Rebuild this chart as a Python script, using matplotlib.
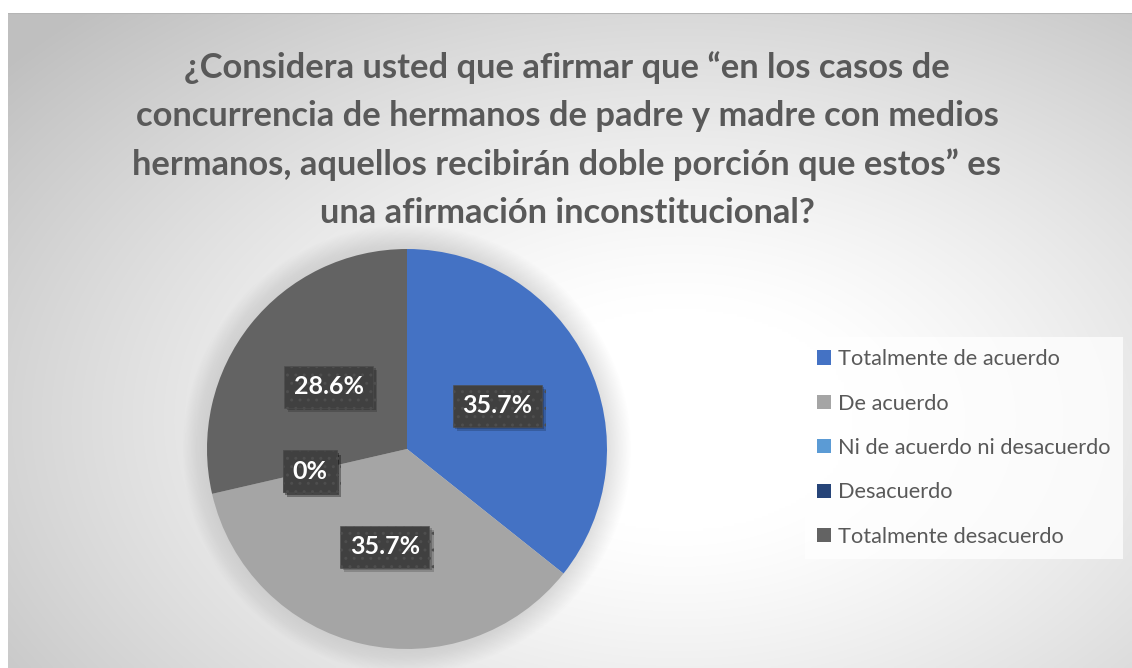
import numpy as np
import matplotlib
matplotlib.use("Agg")
import matplotlib.pyplot as plt
import matplotlib.patheffects as pe
from matplotlib.patches import Circle

# data
categories = ["Totalmente de acuerdo", "De acuerdo", "Ni de acuerdo ni desacuerdo",
              "Desacuerdo", "Totalmente desacuerdo"]
percent = [35.7, 35.7, 0.0, 0.0, 28.6]
colors = ["#4472C4", "#A5A5A5", "#5B9BD5", "#264478", "#636363"]
title = ("¿Considera usted que afirmar que “en los casos de\n"
         "concurrencia de hermanos de padre y madre con medios\n"
         "hermanos, aquellos recibirán doble porción que estos” es\n"
         "una afirmación inconstitucional?")

W, H = 1132, 668
plt.rcParams['font.family'] = ['Lato', 'DejaVu Sans']


def px(x0, y0, x1, y1):
    """pixel box (top-left origin) -> figure fraction rect"""
    return [x0 / W, 1 - y1 / H, (x1 - x0) / W, (y1 - y0) / H]


def main():
    fig = plt.figure(figsize=(W / 100, H / 100), dpi=100)
    fig.patch.set_facecolor("white")

    # chart area with radial grey gradient
    bg = fig.add_axes(px(8, 13, W, H), zorder=-10)
    xs = np.linspace(8, W, 400)
    ys = np.linspace(13, H, 260)
    X, Y = np.meshgrid(xs, ys)
    d = np.sqrt(((X - 680) / 700) ** 2 + ((Y - 420) / 450) ** 2)
    v = 1 - 0.25 * np.clip((d - 0.25) / 1.0, 0, 1) ** 1.2
    bg.imshow(np.dstack([v, v, v]), aspect="auto", extent=[0, 1, 0, 1], interpolation="bilinear")
    bg.plot([0, 1], [1, 1], color="#b5b5b5", lw=1.5, transform=bg.transAxes)
    bg.set_xlim(0, 1)
    bg.set_ylim(0, 1)
    bg.axis("off")

    fig.text(567 / W, 1 - 140 / H, title, ha="center", va="center", fontsize=24.8,
             fontweight="bold", color="#595959", linespacing=1.62)

    # pie
    ax = fig.add_axes(px(207, 249, 607, 649))
    for k in range(16):
        ax.add_patch(Circle((0, 0), 1.0 + 0.008 * k, color="#808080", alpha=0.012, lw=0, zorder=0))
    wedges, texts, autotexts = ax.pie(
        percent, colors=colors, startangle=90, counterclock=False, radius=1,
        autopct=lambda p: "0%" if p < 0.05 else f"{p:.1f}%", pctdistance=0.5,
        wedgeprops=dict(linewidth=0))
    for t in autotexts:
        t.set_color("white")
        t.set_fontsize(18)
        t.set_fontweight("bold")
        t.set_bbox(dict(boxstyle="square,pad=0.38", facecolor="#404040",
                        edgecolor="#4e4e4e", linewidth=0.4, hatch=".."))
        t.get_bbox_patch().set_path_effects(
            [pe.SimplePatchShadow(offset=(3, -3), shadow_rgbFace="black", alpha=0.18),
             pe.SimplePatchShadow(offset=(2, -2), shadow_rgbFace="black", alpha=0.2),
             pe.Normal()])
    ax.set_xlim(-1.15, 1.15)
    ax.set_ylim(-1.15, 1.15)
    ax.set_aspect("equal")
    ax.axis("off")
    # keep the pie at radius 1 in a 400 px box
    ax.set_position(px(207 - 30, 249 - 30, 607 + 30, 649 + 30))

    leg = fig.legend(wedges, categories, loc="center left",
                     bbox_to_anchor=(805 / W, 1 - 448 / H), fontsize=15.7,
                     frameon=True, fancybox=False, handlelength=0.62, handleheight=0.62,
                     handletextpad=0.35, labelspacing=1.12, borderpad=0.55, borderaxespad=0)
    leg.get_frame().set_facecolor("white")
    leg.get_frame().set_alpha(0.75)
    leg.get_frame().set_linewidth(0)
    for t in leg.get_texts():
        t.set_color("#595959")

    fig.savefig("out.png", dpi=100)


if __name__ == "__main__":
    main()
